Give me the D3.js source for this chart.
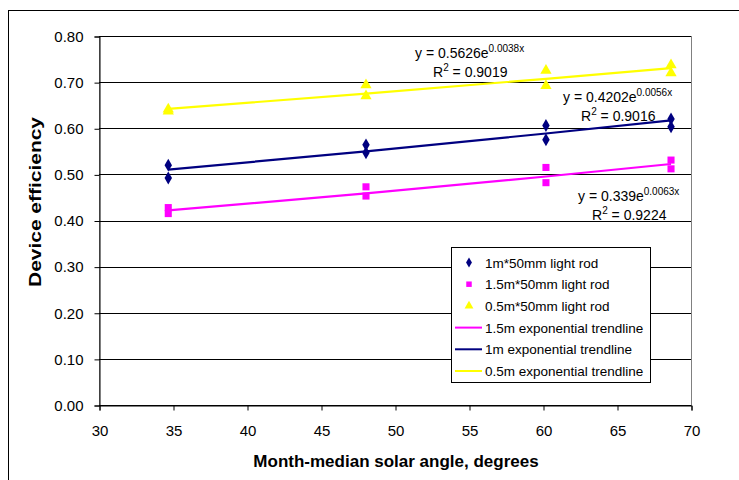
<!DOCTYPE html>
<html><head><meta charset="utf-8">
<script src="https://cdn.jsdelivr.net/npm/d3@7"></script>
<style>
html,body{margin:0;padding:0;background:#fff;}
svg text{font-family:"Liberation Sans",Arial,sans-serif;fill:#000;}
</style></head>
<body><svg id="c" width="739" height="480"></svg>
<script>
// ---- data ----
const angle = [34.68, 34.68, 48.04, 48.04, 60.2, 60.2, 68.65, 68.65];
const eff1m = [0.520, 0.492, 0.564, 0.547, 0.606, 0.575, 0.620, 0.603];
const eff15m = [0.428, 0.415, 0.473, 0.453, 0.515, 0.482, 0.531, 0.512];
const eff05m = [0.641, 0.637, 0.694, 0.670, 0.725, 0.692, 0.737, 0.720];
const trendNames = ["1.5m exponential trendline", "1m exponential trendline", "0.5m exponential trendline"];
const trendA = [0.339, 0.4202, 0.5626];
const trendB = [0.0063, 0.0056, 0.0038];
const trendR2 = ["0.9224", "0.9016", "0.9019"];
const seriesNames = ["1m*50mm light rod", "1.5m*50mm light rod", "0.5m*50mm light rod"];
const xTicks = [30, 35, 40, 45, 50, 55, 60, 65, 70];
const yTicks = [0, 0.1, 0.2, 0.3, 0.4, 0.5, 0.6, 0.7, 0.8];

const navy = "#000080", pink = "#FF00FF", yellow = "#FFFF00";
const svg = d3.select("#c");
const L = 99, R = 691, T = 36, B = 405;
const x = d3.scaleLinear().domain([30, 70]).range([L, R]);
const y = d3.scaleLinear().domain([0, 0.8]).range([B, T]);

// outer frame
svg.append("rect").attr("x", 8.5).attr("y", 10.5).attr("width", 760).attr("height", 500)
  .attr("fill", "none").attr("stroke", "#000").attr("stroke-width", 1);

// plot border
svg.append("rect").attr("x", L + 0.5).attr("y", T + 0.5).attr("width", R - L).attr("height", B - T)
  .attr("fill", "none").attr("stroke", "#808080");

// gridlines
svg.append("g").selectAll("line").data(yTicks).join("line")
  .attr("x1", L).attr("x2", R).attr("y1", d => Math.round(y(d)) + 0.5).attr("y2", d => Math.round(y(d)) + 0.5)
  .attr("stroke", "#000").attr("stroke-width", 1);

// axes
const yAxis = d3.axisLeft(y).tickValues(yTicks).tickFormat(d3.format(".2f")).tickSize(5).tickPadding(11);
const gy = svg.append("g").attr("transform", `translate(${L + 0.5},0.5)`).call(yAxis);
const xAxis = d3.axisBottom(x).tickValues(xTicks).tickFormat(d3.format("d")).tickSize(5).tickPadding(15);
const gx = svg.append("g").attr("transform", `translate(0.5,${B + 0.5})`).call(xAxis);
[gx, gy].forEach(g => {
  g.selectAll("path").attr("stroke", "#000");
  g.selectAll("line").attr("stroke", "#000");
  g.selectAll("text").attr("font-size", 15).attr("font-family", "Liberation Sans, Arial, sans-serif").attr("fill", "#000");
});

// trendlines
const trendColors = [pink, navy, yellow];
trendA.forEach((a, i) => {
  const pts = Array.from(new Set(angle)).map(v => [x(v), y(a * Math.exp(trendB[i] * v))]);
  svg.append("path").attr("d", d3.line()(pts)).attr("fill", "none")
    .attr("stroke", trendColors[i]).attr("stroke-width", 2.2);
});

// markers
function drawPts(vals, type, color, size) {
  const sym = d3.symbol().type(type).size(size);
  svg.append("g").selectAll("path").data(vals).join("path")
    .attr("transform", (d, i) => `translate(${x(angle[i])},${y(d)})`)
    .attr("d", sym).attr("fill", color);
}
drawPts(eff05m, d3.symbolTriangle, yellow, 55);
drawPts(eff15m, d3.symbolSquare, pink, 50);
drawPts(eff1m, d3.symbolDiamond, navy, 48);

// equation labels
function eqn(xp, yp, i, rx) {
  const t = svg.append("text").attr("x", xp).attr("y", yp).attr("font-size", 14);
  t.append("tspan").text(`y = ${trendA[i]}e`);
  t.append("tspan").attr("font-size", 10).attr("dy", -6).text(`${trendB[i].toFixed(4)}x`);
  const r = svg.append("text").attr("x", rx).attr("y", yp + 19).attr("font-size", 14);
  r.append("tspan").text("R");
  r.append("tspan").attr("font-size", 10).attr("dy", -6).text("2");
  r.append("tspan").attr("dy", 6).text(` = ${trendR2[i]}`);
}
eqn(415, 58, 2, 433);
eqn(563, 102, 1, 581);
eqn(578, 201, 0, 592);

// legend
const lg = svg.append("g");
lg.append("rect").attr("x", 451.5).attr("y", 247.5).attr("width", 199).attr("height", 135)
  .attr("fill", "#fff").attr("stroke", "#000");
const rows = [
  {t: seriesNames[0], m: d3.symbolDiamond, c: navy, s: 30},
  {t: seriesNames[1], m: d3.symbolSquare, c: pink, s: 30},
  {t: seriesNames[2], m: d3.symbolTriangle, c: yellow, s: 34},
  {t: trendNames[0], c: pink},
  {t: trendNames[1], c: navy},
  {t: trendNames[2], c: yellow}
];
rows.forEach((r, i) => {
  const cy = 262.5 + i * 21.7;
  if (r.m) {
    lg.append("path").attr("d", d3.symbol().type(r.m).size(r.s)).attr("fill", r.c)
      .attr("transform", `translate(469,${cy})`);
  } else {
    lg.append("line").attr("x1", 455).attr("x2", 482).attr("y1", cy).attr("y2", cy)
      .attr("stroke", r.c).attr("stroke-width", 2);
  }
  lg.append("text").attr("x", 485).attr("y", cy + 5).attr("font-size", 13.5).text(r.t);
});

// axis titles
svg.append("text").attr("x", 396).attr("y", 467).attr("text-anchor", "middle")
  .attr("font-size", 17).attr("font-weight", "bold").text("Month-median solar angle, degrees");
svg.append("text").attr("transform", "translate(41,202) rotate(-90)").attr("text-anchor", "middle")
  .attr("font-size", 17).attr("font-weight", "bold")
  .attr("textLength", 170).attr("lengthAdjust", "spacingAndGlyphs").text("Device efficiency");
</script></body></html>
